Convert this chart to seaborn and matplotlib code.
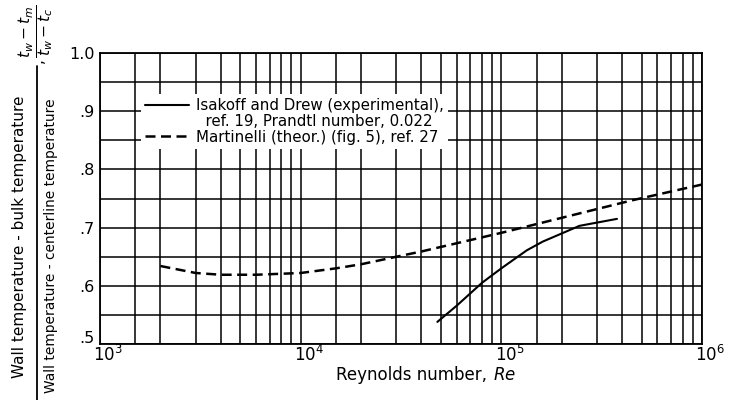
import matplotlib
matplotlib.use("Agg")
import matplotlib.pyplot as plt
import matplotlib.transforms as mtransforms
from matplotlib.lines import Line2D
import numpy as np
import pandas as pd
import seaborn as sns

# Martinelli theoretical curve (fig. 5), ref. 27
re_theory = [2000, 3000, 4000, 6000, 10000, 15000, 20000, 32000, 40000, 100000, 450000, 1000000]
ratio_theory = [0.634, 0.622, 0.619, 0.619, 0.622, 0.630, 0.637, 0.652, 0.659, 0.691, 0.747, 0.774]

# Isakoff and Drew experimental curve, ref. 19, Pr = 0.022
re_exp = [48000, 60000, 80000, 100000, 134000, 161000, 245000, 377000]
ratio_exp = [0.538, 0.566, 0.605, 0.630, 0.661, 0.676, 0.703, 0.715]

y_ticks = [0.5, 0.6, 0.7, 0.8, 0.9, 1.0]
y_tick_labels = [".5", ".6", ".7", ".8", ".9", "1.0"]
x_ticks = [1e3, 1e4, 1e5, 1e6]
x_tick_labels = [r"$10^3$", r"$10^4$", r"$10^5$", r"$10^6$"]

sns.set_theme(style="white")
plt.rcParams["font.family"] = ["DejaVu Sans"]
plt.rcParams["mathtext.fontset"] = "dejavusans"
plt.rcParams["text.color"] = "black"
plt.rcParams["axes.labelcolor"] = "black"
plt.rcParams["xtick.color"] = "black"
plt.rcParams["ytick.color"] = "black"

fig = plt.figure(figsize=(7.29, 4.0), dpi=100)
ax = fig.add_axes([100 / 729, 1 - 344 / 400, 602 / 729, 291 / 400])

df_theory = pd.DataFrame({"Re": re_theory, "ratio": ratio_theory})
df_exp = pd.DataFrame({"Re": re_exp, "ratio": ratio_exp})

dash_style = (0, (4, 2.2))
sns.lineplot(data=df_exp, x="Re", y="ratio", ax=ax, color="black", lw=1.5,
             estimator=None, sort=False)
sns.lineplot(data=df_theory, x="Re", y="ratio", ax=ax, color="black", lw=1.8,
             estimator=None, sort=False, linestyle=dash_style)

ax.set_xscale("log")
ax.set_xlim(1e3, 1e6)
ax.set_ylim(0.5, 1.0)
ax.set_xticks(x_ticks)
ax.set_xticklabels(x_tick_labels, fontsize=12)
ax.set_yticks(y_ticks)
ax.set_yticklabels(y_tick_labels, fontsize=11.5)
ax.set_yticks(np.arange(0.55, 1.0, 0.1), minor=True)
ax.xaxis.set_minor_locator(
    matplotlib.ticker.LogLocator(base=10, subs=[1.5, 2, 3, 4, 5, 6, 7, 8, 9]))
ax.xaxis.set_minor_formatter(matplotlib.ticker.NullFormatter())
ax.tick_params(which="both", length=0, colors="black")
ax.tick_params(axis="y", pad=4)
ax.tick_params(axis="x", pad=1)
ax.grid(True, which="both", color="black", lw=1.1)
for s in ax.spines.values():
    s.set_color("black")
    s.set_linewidth(1.3)
ax.set_xlabel("")
ax.set_ylabel("")

# lift the lowest y label clear of the first x label
lift = mtransforms.ScaledTranslation(0, 5 / 72, fig.dpi_scale_trans)
lbl0 = ax.get_yticklabels()[0]
lbl0.set_transform(lbl0.get_transform() + lift)
shift = mtransforms.ScaledTranslation(6 / 72, 0, fig.dpi_scale_trans)
for lbl in ax.get_xticklabels():
    lbl.set_transform(lbl.get_transform() + shift)

ax.text(0.652, -0.108, "Reynolds number, ", transform=ax.transAxes, ha="right",
        va="center", fontsize=12)
ax.text(0.652, -0.108, "$\\it{Re}$", transform=ax.transAxes, ha="left",
        va="center", fontsize=12)

handles = [
    Line2D([], [], color="black", lw=1.5),
    Line2D([], [], color="none"),
    Line2D([], [], color="black", lw=1.8, linestyle=dash_style),
]
labels = [
    "Isakoff and Drew (experimental),",
    "  ref. 19, Prandtl number, 0.022",
    "Martinelli (theor.) (fig. 5), ref. 27",
]
leg = ax.legend(handles, labels, loc="upper left", bbox_to_anchor=(0.068, 0.86),
                fontsize=10.8, frameon=True, facecolor="white", edgecolor="none",
                framealpha=1, fancybox=False, handlelength=2.9, handletextpad=0.45,
                labelspacing=0.05, borderpad=0.3, borderaxespad=0)
leg.set_zorder(5)

# Ratio label on the left: the fraction written out in words
fig.text(20 / 729, 1 - 237 / 400, "Wall temperature - bulk temperature",
         rotation=90, ha="center", va="center", fontsize=11)
fig.text(51 / 729, 1 - 246 / 400, "Wall temperature - centerline temperature",
         rotation=90, ha="center", va="center", fontsize=9.9)
fig.add_artist(Line2D([37 / 729, 37 / 729], [1 - 66 / 400, 0.0], color="black",
                      lw=1.3, transform=fig.transFigure))
fig.text(38 / 729, 1 - 61 / 400, ",", rotation=90, ha="center", va="center",
         fontsize=11)
fig.text(37 / 729, 1 - 31 / 400, r"$\frac{t_w - t_m}{t_w - t_c}$",
         rotation=90, ha="center", va="center", fontsize=16)

fig.savefig("out.png", dpi=100, facecolor="white")
